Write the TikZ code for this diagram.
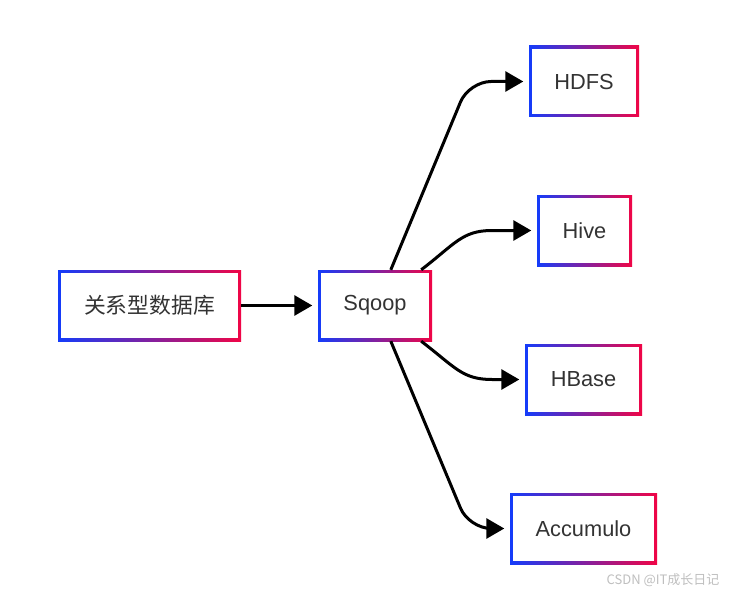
\documentclass[tikz,border=0pt]{standalone}
\usepackage{fontspec}
\setmainfont{Liberation Sans}
\newfontfamily\cjk{Noto Sans CJK SC}
\usetikzlibrary{arrows.meta,calc}
\definecolor{gblue}{RGB}{20,60,250}
\definecolor{gred}{RGB}{240,5,70}
\definecolor{txt}{RGB}{51,51,51}
\begin{document}
\begin{tikzpicture}[x=1pt,y=-1pt,
  box/.style={left color=gblue,right color=gred,inner sep=0pt,minimum height=71pt,text=txt,
    font=\fontsize{21.8}{24}\selectfont,
    path picture={\fill[white] ([shift={(3pt,-3pt)}]path picture bounding box.north west) rectangle ([shift={(-3pt,3pt)}]path picture bounding box.south east);}},
  conn/.style={line width=3pt,-{Triangle[length=18pt,width=20pt]},shorten >=5.5pt}]
\useasboundingbox[fill=white] (0,0) rectangle (732,594);
\node[box,minimum width=183pt] (db) at (149.5,305.5) {\cjk 关系型数据库};
\node[box,minimum width=114pt] (sq) at (375,305.5) {Sqoop};
\node[box,minimum width=110pt] (hdfs) at (584,81.5) {HDFS};
\node[box,minimum width=95pt] (hive) at (584.5,230.5) {Hive};
\node[box,minimum width=117pt] (hbase) at (583.5,379.5) {HBase};
\node[box,minimum width=147pt] (acc) at (583.5,528.5) {Accumulo};
\draw[conn] (db.east) -- (sq.west);
\draw[conn,rounded corners=22pt] ($(sq.north west)+(73pt,0)$) -- (469,81.5) -- (hdfs.west);
\draw[conn] ($(sq.north east)+(-11pt,0)$) .. controls (455,244) and (462,230.5) .. (492,230.5) -- (hive.west);
\draw[conn] ($(sq.south east)+(-11pt,0)$) .. controls (455,367) and (462,379.5) .. (492,379.5) -- (hbase.west);
\draw[conn,rounded corners=22pt] ($(sq.south west)+(73pt,0)$) -- (469,528.5) -- (acc.west);
\node[text=black!25,font=\cjk\fontsize{13}{15}\selectfont,anchor=east] (wm) at (723,580) {CSDN @IT成长日记};
\end{tikzpicture}
\end{document}
